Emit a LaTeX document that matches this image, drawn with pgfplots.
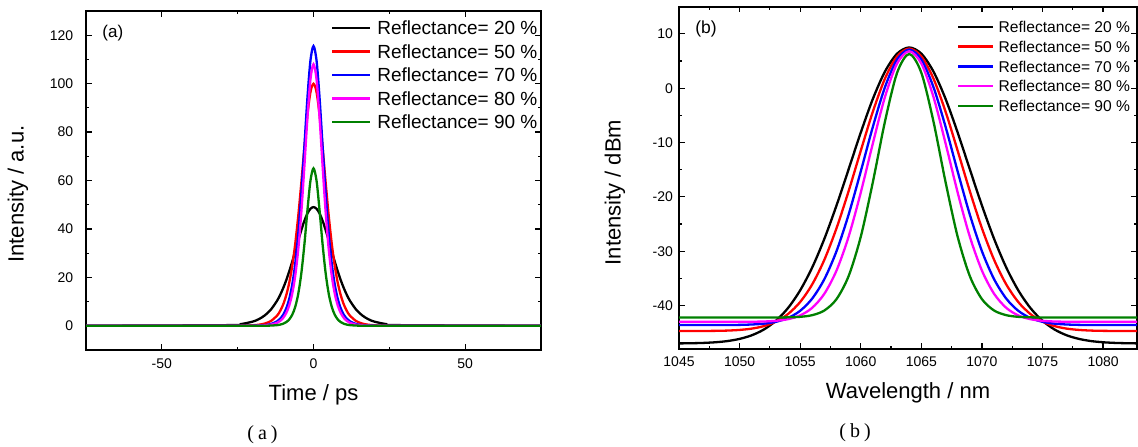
\documentclass[border=0pt]{standalone}
\usepackage{fontspec}
\setmainfont{Liberation Sans}
\newfontfamily\capfont{Liberation Serif}
\usepackage{pgfplots}
\usepackage{pgfplotstable}
\pgfplotsset{compat=1.18}

% pulse shapes, panel (a)
\pgfplotstableread{
t    r20    r50    r70    r80    r90
-75  0      0      0      0      0
-28  0.27   0.01   0      0      0
-24  0.69   0.05   0.01   0      0
-20  1.74   0.21   0.05   0.03   0
-18  2.76   0.45   0.12   0.07   0.01
-16  4.34   0.95   0.29   0.18   0.03
-14  6.76   2.01   0.74   0.47   0.09
-12  10.37  4.23   1.84   1.23   0.27
-11  12.74  6.11   2.90   2.00   0.48
-10  15.54  8.78   4.56   3.24   0.85
-9   18.79  12.55  7.14   5.22   1.50
-8   22.47  17.76  11.10  8.38   2.63
-7   26.54  24.83  17.09  13.32  4.59
-6   30.88  34.11  25.90  20.85  7.91
-5   35.31  45.72  38.30  31.88  13.35
-4   39.57  59.30  54.68  47.07  21.79
-3   43.37  73.74  74.23  65.93  33.62
-2   46.38  87.00  94.15  85.89  47.67
-1   48.33  96.52  109.60 101.82 59.97
0    49.00  100.00 115.50 108.00 65.00
1    48.33  96.52  109.60 101.82 59.97
2    46.38  87.00  94.15  85.89  47.67
3    43.37  73.74  74.23  65.93  33.62
4    39.57  59.30  54.68  47.07  21.79
5    35.31  45.72  38.30  31.88  13.35
6    30.88  34.11  25.90  20.85  7.91
7    26.54  24.83  17.09  13.32  4.59
8    22.47  17.76  11.10  8.38   2.63
9    18.79  12.55  7.14   5.22   1.50
10   15.54  8.78   4.56   3.24   0.85
11   12.74  6.11   2.90   2.00   0.48
12   10.37  4.23   1.84   1.23   0.27
14   6.76   2.01   0.74   0.47   0.09
16   4.34   0.95   0.29   0.18   0.03
18   2.76   0.45   0.12   0.07   0.01
20   1.74   0.21   0.05   0.03   0
24   0.69   0.05   0.01   0      0
28   0.27   0.01   0      0      0
75   0      0      0      0      0
}\pulse

% spectra, panel (b)
\pgfplotstableread{
wl    r20     r50     r70     r80     r90
1045  -46.97  -44.70  -43.60  -43.00  -42.20
1046  -46.94  -44.69  -43.60  -43.00  -42.20
1047  -46.88  -44.68  -43.60  -43.00  -42.20
1048  -46.76  -44.66  -43.60  -43.00  -42.20
1049  -46.54  -44.61  -43.59  -43.00  -42.20
1050  -46.14  -44.49  -43.56  -43.00  -42.20
1051  -45.48  -44.25  -43.49  -42.98  -42.20
1052  -44.42  -43.79  -43.34  -42.94  -42.20
1053  -42.80  -42.96  -42.99  -42.81  -42.20
1054  -40.45  -41.56  -42.29  -42.51  -42.17
1055  -37.20  -39.35  -40.97  -41.82  -42.08
1056  -32.96  -36.08  -38.70  -40.41  -41.77
1057  -27.70  -31.56  -35.13  -37.82  -40.91
1058  -21.58  -25.77  -29.99  -33.56  -38.82
1059  -14.91  -18.93  -23.25  -27.31  -34.57
1060  -8.17   -11.52  -15.33  -19.22  -27.35
1061  -1.96   -4.31   -7.10   -10.14  -17.28
1062  3.07    1.78    0.21    -1.60   -6.12
1063  6.36    5.86    5.28    4.55    2.84
1064  7.50    7.30    7.10    6.80    6.30
1065  6.36    5.86    5.28    4.55    2.84
1066  3.07    1.78    0.21    -1.60   -6.12
1067  -1.96   -4.31   -7.10   -10.14  -17.28
1068  -8.17   -11.52  -15.33  -19.22  -27.35
1069  -14.91  -18.93  -23.25  -27.31  -34.57
1070  -21.58  -25.77  -29.99  -33.56  -38.82
1071  -27.70  -31.56  -35.13  -37.82  -40.91
1072  -32.96  -36.08  -38.70  -40.41  -41.77
1073  -37.20  -39.35  -40.97  -41.82  -42.08
1074  -40.45  -41.56  -42.29  -42.51  -42.17
1075  -42.80  -42.96  -42.99  -42.81  -42.20
1076  -44.42  -43.79  -43.34  -42.94  -42.20
1077  -45.48  -44.25  -43.49  -42.98  -42.20
1078  -46.14  -44.49  -43.56  -43.00  -42.20
1079  -46.54  -44.61  -43.59  -43.00  -42.20
1080  -46.76  -44.66  -43.60  -43.00  -42.20
1081  -46.88  -44.68  -43.60  -43.00  -42.20
1082  -46.94  -44.69  -43.60  -43.00  -42.20
1083  -46.97  -44.70  -43.60  -43.00  -42.20
}\spectra

\definecolor{ogreen}{RGB}{0,128,0}
\definecolor{omagenta}{RGB}{255,0,255}
\definecolor{ored}{RGB}{255,0,0}
\definecolor{oblue}{RGB}{0,0,255}

\pgfplotsset{
  originbox/.style={
    scale only axis,
    anchor=south west,
    axis line style={line width=1.8pt},
    tick style={line width=1.2pt, black},
    major tick length=5.7pt,
    minor tick length=3.3pt,
    tick align=inside,
    minor x tick num=1,
    minor y tick num=1,
    tick label style={font=\fontsize{14}{14}\selectfont},
    label style={font=\fontsize{22}{22}\selectfont},
    /pgf/number format/assume math mode=true,
    /pgf/number format/1000 sep={},
    every axis plot/.append style={line width=2.3pt, smooth},
    legend cell align=left,
  },
}

\begin{document}
\begin{tikzpicture}
\useasboundingbox (0,0) rectangle (1138pt,447pt);

\begin{axis}[
  originbox,
  at={(86pt,97pt)},
  width=455pt, height=339pt,
  xmin=-75, xmax=75, ymin=-10, ymax=130,
  xtick={-50,0,50},
  ytick={0,20,40,60,80,100,120},
  xticklabel style={yshift=-5.3pt},
  yticklabel style={xshift=-9.3pt},
  xlabel={Time / ps},
  ylabel={Intensity / a.u.},
  xlabel style={at={(axis description cs:0.5,-0.1327)}, anchor=center},
  ylabel style={at={(axis description cs:-0.1495,0.46)}, anchor=center},
  legend style={draw=none, fill=none, inner sep=0pt,
    at={(axis description cs:0.5378,0.9854)}, anchor=north west,
    font=\fontsize{19}{19}\selectfont, column sep=6pt,
    nodes={inner sep=0pt, text height=18.55pt, text depth=4.95pt}},
  legend image code/.code={\draw[#1, line width=2.5pt] (0pt,0pt) -- (38pt,0pt);},
]
\addplot[black] table[x=t, y=r20] {\pulse};
\addplot[ored] table[x=t, y=r50] {\pulse};
\addplot[oblue] table[x=t, y=r70] {\pulse};
\addplot[omagenta] table[x=t, y=r80] {\pulse};
\addplot[ogreen] table[x=t, y=r90] {\pulse};
\legend{Reflectance= 20 \%, Reflectance= 50 \%, Reflectance= 70 \%,
  Reflectance= 80 \%, Reflectance= 90 \%}
\node[font=\fontsize{17}{17}\selectfont] at (axis description cs:0.059,0.935) {(a)};
\end{axis}

\begin{axis}[
  originbox,
  at={(679pt,98pt)},
  width=458pt, height=342.3pt,
  xmin=1045, xmax=1082.8, ymin=-48, ymax=15,
  xtick={1045,1050,...,1080},
  ytick={-40,-30,-20,-10,0,10},
  xticklabel style={yshift=-4.6pt},
  yticklabel style={xshift=-2.5pt},
  xlabel={Wavelength / nm},
  ylabel={Intensity / dBm},
  xlabel style={at={(axis description cs:0.5,-0.1285)}, anchor=center},
  ylabel style={at={(axis description cs:-0.1397,0.457)}, anchor=center},
  legend style={draw=none, fill=none, inner sep=0pt,
    at={(axis description cs:0.6063,0.9705)}, anchor=north west,
    font=\fontsize{15.6}{15.6}\selectfont, column sep=4.3pt,
    nodes={inner sep=0pt, text height=15.5pt, text depth=4.27pt}},
  legend image code/.code={\draw[#1, line width=2.5pt] (0pt,0pt) -- (35pt,0pt);},
]
\addplot[black] table[x=wl, y=r20] {\spectra};
\addplot[ored] table[x=wl, y=r50] {\spectra};
\addplot[oblue] table[x=wl, y=r70] {\spectra};
\addplot[omagenta] table[x=wl, y=r80] {\spectra};
\addplot[ogreen] table[x=wl, y=r90] {\spectra};
\legend{Reflectance= 20 \%, Reflectance= 50 \%, Reflectance= 70 \%,
  Reflectance= 80 \%, Reflectance= 90 \%}
\node[font=\fontsize{17.5}{17.5}\selectfont] at (axis description cs:0.059,0.935) {(b)};
\end{axis}

\node[font=\capfont\fontsize{20}{20}\selectfont] at (262.5pt,12pt) {(\hspace{4pt}a\hspace{4pt})};
\node[font=\capfont\fontsize{20}{20}\selectfont] at (855pt,14pt) {(\hspace{4pt}b\hspace{4pt})};
\end{tikzpicture}
\end{document}
